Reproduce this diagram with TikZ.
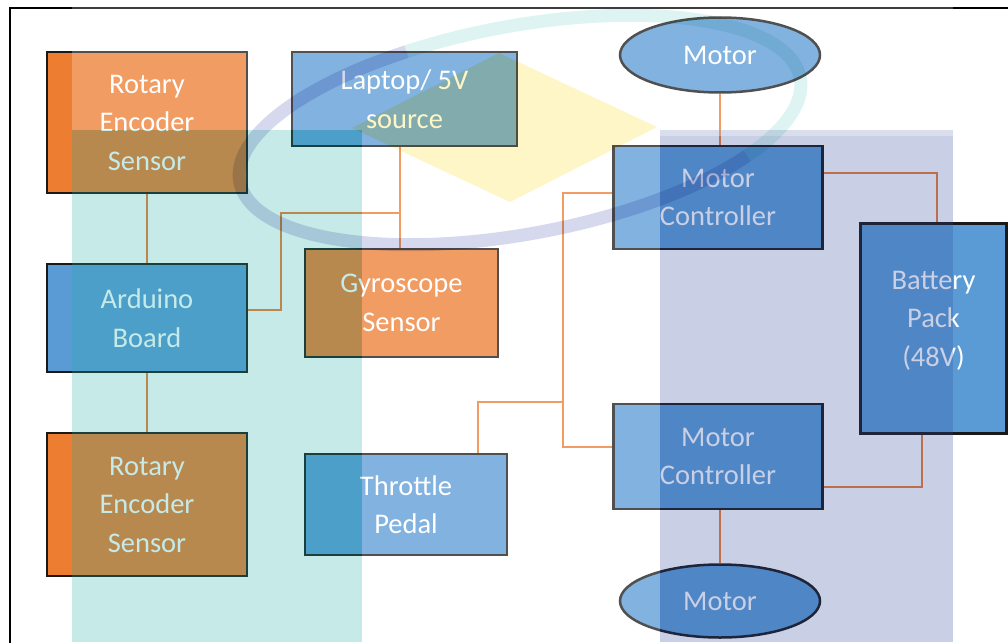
\documentclass[tikz,border=0pt]{standalone}
\usepackage{fontspec}
\setmainfont{Carlito}
\usetikzlibrary{shapes.geometric}

\definecolor{boxorange}{RGB}{237,125,49}
\definecolor{boxblue}{RGB}{91,155,213}
\definecolor{wireorange}{RGB}{237,125,49}
\definecolor{bandteal}{RGB}{32,174,167}
\definecolor{bandlav}{RGB}{47,74,155}
\definecolor{ringlav}{RGB}{214,217,238}
\definecolor{ringteal}{RGB}{222,244,242}
\definecolor{markyellow}{RGB}{255,246,200}

\begin{document}
\begin{tikzpicture}
  [x=1pt,y=-1pt,
   every node/.style={draw=black!90,line width=2.5pt,text=white,align=center,inner sep=0pt,
     font=\fontsize{28.5}{38.5}\selectfont},
   orangebox/.style={rectangle,fill=boxorange},
   bluebox/.style={rectangle,fill=boxblue},
   motor/.style={ellipse,fill=boxblue,minimum width=200pt,minimum height=75pt},
   wire/.style={draw=wireorange,line width=2.6pt}]
  \useasboundingbox (0,0) rectangle (1008,642);
  \clip (0,0) rectangle (1008,642);
  \fill[white] (0,0) rectangle (1008,642);
  \draw[line width=2.5pt] (10,8) rectangle (1030,680);

  \node[orangebox,minimum width=200pt,minimum height=141pt] (enc1) at (147,122.5) {Rotary\\Encoder\\Sensor};
  \node[bluebox,minimum width=225pt,minimum height=94pt] (laptop) at (404.5,99) {Laptop/ 5V\\source};
  \node[motor] (mot1) at (720,55) {Motor};
  \node[bluebox,minimum width=209pt,minimum height=103pt] (mc1) at (718,197.5) {Motor\\Controller};
  \node[bluebox,minimum width=146pt,minimum height=210pt] (bat) at (933.5,328.5) {Battery\\Pack\\(48V)\\[-19pt]\mbox{}};
  \node[bluebox,minimum width=200pt,minimum height=108pt] (ard) at (147,318) {Arduino\\Board};
  \node[orangebox,minimum width=193pt,minimum height=108pt] (gyro) at (401.5,303) {Gyroscope\\Sensor};
  \node[orangebox,minimum width=200pt,minimum height=143pt] (enc2) at (147,504.5) {Rotary\\Encoder\\Sensor};
  \node[bluebox,minimum width=202pt,minimum height=101pt] (thr) at (406,504.5) {Throttle\\Pedal};
  \node[bluebox,minimum width=209pt,minimum height=105pt] (mc2) at (718,456.5) {Motor\\Controller};
  \node[motor,minimum height=73pt] (mot2) at (720,601) {Motor};

  \coordinate (ja) at (281,310);
  \coordinate (jl) at (400,213);
  \coordinate (jm1) at (563,193);
  \coordinate (jm2) at (563,447);
  \coordinate (jt) at (478,402);
  \coordinate (jb1) at (937,173);
  \coordinate (jb2) at (922,487);
  \coordinate (jc1) at (720,120);
  \coordinate (jc2) at (720,540);

  \foreach \from/\to in {enc1/ard,ard/enc2}
    \draw[wire] (\from) -- (\to);
  \draw[wire] (mot1.south) -- (mc1.north -| jc1);
  \draw[wire] (mc2.south -| jc2) -- (mot2.north);
  \draw[wire] (ard.east |- ja) -- (ja) |- (jl);
  \draw[wire] (laptop.south -| jl) -- (gyro.north -| jl);
  \draw[wire] (mc1.west |- jm1) -- (jm1) -- (jm2) -- (mc2.west |- jm2);
  \draw[wire] (thr.north -| jt) -- (jt) -- (jt -| jm1);
  \draw[wire] (mc1.east |- jb1) -- (jb1) -- (bat.north -| jb1);
  \draw[wire] (bat.south -| jb2) -- (jb2) -- (mc2.east |- jb2);

  % faded backdrop laid over the blocks
  \fill[white,opacity=.24] (72,0) rectangle (953,130);
  \fill[white,opacity=.24] (362,130) rectangle (660,642);
  \fill[bandteal,opacity=.26] (72,130) rectangle (362,642);
  \fill[bandlav,opacity=.26] (660,130) rectangle (953,642);
  \fill[white,opacity=.3] (660,130) rectangle (953,136);
  \begin{scope}[blend mode=multiply]
    \fill[markyellow] (352,128) -- (499,53) -- (657,127) -- (510,202) -- cycle;
    \draw[ringlav,line width=13pt,rotate around={10.5:(520,130)}]
      (520,130) ++(40:285 and 104) arc[start angle=40,end angle=250,x radius=285,y radius=104];
    \draw[ringteal,line width=13pt,rotate around={10.5:(520,130)}]
      (520,130) ++(-110:285 and 104) arc[start angle=-110,end angle=40,x radius=285,y radius=104];
  \end{scope}
\end{tikzpicture}
\end{document}
